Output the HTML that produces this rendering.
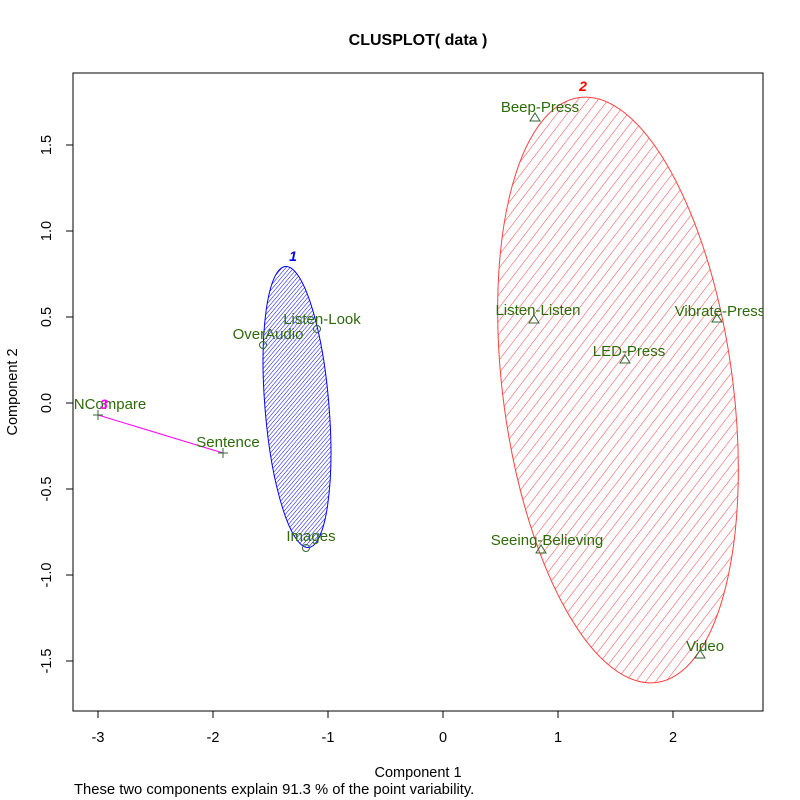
<!DOCTYPE html>
<html><head><style>body{margin:0;background:#fff}svg{display:block}</style></head><body>
<svg width="800" height="800" xmlns="http://www.w3.org/2000/svg" font-family="Liberation Sans, sans-serif">
<defs>
<pattern id="pb" width="3" height="3" patternUnits="userSpaceOnUse" patternTransform="rotate(45)">
<line x1="0" y1="0" x2="0" y2="3" stroke="#0000ff" stroke-width="1"/></pattern>
<pattern id="pr" width="8" height="8" patternUnits="userSpaceOnUse" patternTransform="rotate(45)">
<line x1="0" y1="0" x2="0" y2="8" stroke="#ff4040" stroke-width="1"/></pattern>
<clipPath id="cp"><rect x="73" y="73" width="690" height="638"/></clipPath>
</defs>
<text x="418" y="45" text-anchor="middle" font-weight="bold" font-size="16">CLUSPLOT( data )</text>
<rect x="73" y="73" width="690" height="638" fill="none" stroke="#000"/>
<g stroke="#000">
<line x1="98" y1="711" x2="673" y2="711"/>
<line x1="98" y1="711" x2="98" y2="718"/><line x1="213" y1="711" x2="213" y2="718"/><line x1="328" y1="711" x2="328" y2="718"/><line x1="443" y1="711" x2="443" y2="718"/><line x1="558" y1="711" x2="558" y2="718"/><line x1="673" y1="711" x2="673" y2="718"/>
<line x1="73" y1="145" x2="73" y2="661"/>
<line x1="66" y1="145" x2="73" y2="145"/><line x1="66" y1="231" x2="73" y2="231"/><line x1="66" y1="317" x2="73" y2="317"/><line x1="66" y1="403" x2="73" y2="403"/><line x1="66" y1="489" x2="73" y2="489"/><line x1="66" y1="575" x2="73" y2="575"/><line x1="66" y1="661" x2="73" y2="661"/>
</g>
<g font-size="14.5" text-anchor="middle" fill="#000">
<text x="98" y="742">-3</text><text x="213" y="742">-2</text><text x="328" y="742">-1</text><text x="443" y="742">0</text><text x="558" y="742">1</text><text x="673" y="742">2</text>
<g transform="translate(51,0)">
<text transform="translate(0,145) rotate(-90)">1.5</text><text transform="translate(0,231) rotate(-90)">1.0</text><text transform="translate(0,317) rotate(-90)">0.5</text><text transform="translate(0,403) rotate(-90)">0.0</text><text transform="translate(0,489) rotate(-90)">-0.5</text><text transform="translate(0,575) rotate(-90)">-1.0</text><text transform="translate(0,661) rotate(-90)">-1.5</text>
</g>
<text x="418" y="777">Component 1</text>
<text transform="translate(17,392) rotate(-90)">Component 2</text>
</g>
<text x="74" y="794" font-size="14.8">These two components explain 91.3 % of the point variability.</text>
<g clip-path="url(#cp)">
<ellipse cx="297" cy="407" rx="32" ry="141" transform="rotate(-4.7 297 407)" fill="url(#pb)" stroke="#0000ff"/>
<ellipse cx="618" cy="390" rx="115" ry="295" transform="rotate(-7.5 618 390)" fill="url(#pr)" stroke="#ff4040"/>
<line x1="98" y1="415" x2="223" y2="453" stroke="#ff00ff"/>
<g fill="none" stroke="#336633" stroke-width="1">
<circle cx="263" cy="345" r="3.5"/><circle cx="317" cy="329" r="3.5"/><circle cx="306" cy="548" r="3.5"/>
<path d="M218 453h10M223 448v10M93 415h10M98 410v10"/>
<path d="M535 113l5 8h-10z M534 315l5 8h-10z M717 314l5 8h-10z M625 355l5 8h-10z M541 545l5 8h-10z M700 650l5 8h-10z"/>
</g>
<g font-size="15" fill="#2d6a0a" text-anchor="middle">
<text x="540" y="112">Beep-Press</text><text x="538" y="315">Listen-Listen</text><text x="720" y="316">Vibrate-Press</text><text x="629" y="356">LED-Press</text><text x="547" y="545">Seeing-Believing</text><text x="705" y="651">Video</text>
<text x="268" y="339">OverAudio</text><text x="322" y="324">Listen-Look</text><text x="311" y="541">Images</text><text x="228" y="447">Sentence</text><text x="110" y="409">NCompare</text>
</g>
<g font-size="14" font-weight="bold" font-style="italic" text-anchor="middle">
<text x="293" y="261" fill="#0000ff">1</text><text x="583" y="91" fill="#ff0000">2</text><text x="104" y="409" fill="#ff00ff">3</text>
</g>
</g>
</svg>
</body></html>
